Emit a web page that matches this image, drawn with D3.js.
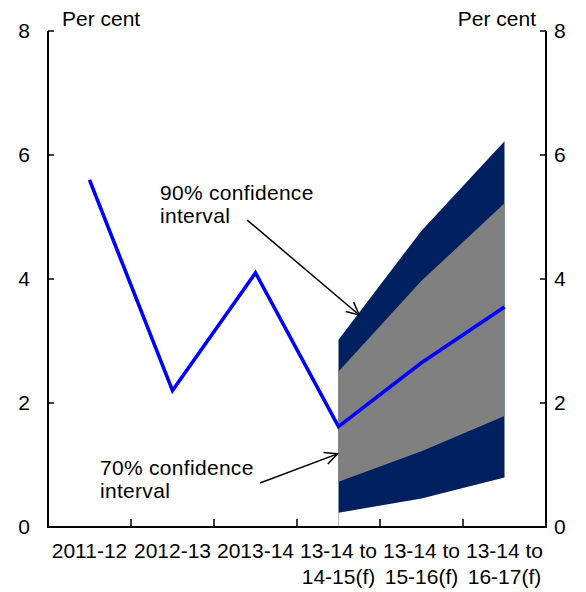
<!DOCTYPE html>
<html>
<head>
<meta charset="utf-8">
<script src="https://cdn.jsdelivr.net/npm/d3@7"></script>
<style>
  html, body { margin: 0; padding: 0; background: #fff; }
  svg { display: block; font-family: "Liberation Sans", Arial, sans-serif; }
  .tick-label { font-size: 21px; fill: #000; }
  .note { font-size: 21px; letter-spacing: 0.3px; fill: #000; }
</style>
</head>
<body>
<svg id="chart" width="586" height="592"></svg>
<script>
(function () {
  'use strict';

  const W = 586;
  const H = 592;
  const M = { left: 48, right: 40, top: 31, bottom: 65 };

  // categories, two-line labels
  const categories = ['2011-12', '2012-13', '2013-14', 'f1', 'f2', 'f3'];
  const catLabels = [
    ['2011-12'], ['2012-13'], ['2013-14'],
    ['13-14 to', '14-15(f)'], ['13-14 to', '15-16(f)'], ['13-14 to', '16-17(f)']
  ];

  // central line (per cent)
  const lineValues = [5.6, 2.2, 4.1, 1.62, 2.65, 3.55];

  // forecast fan, starting at 4th category
  const fanCats = ['f1', 'f2', 'f3'];
  const ci90Low = [0.23, 0.46, 0.80];
  const ci90High = [3.02, 4.78, 6.22];
  const ci70Low = [0.73, 1.22, 1.79];
  const ci70High = [2.51, 3.97, 5.22];

  const yTicks = [0, 2, 4, 6, 8];

  const svg = d3.select('#chart');
  const x = d3.scaleBand().domain(categories).range([M.left, W - M.right]).padding(0);
  const y = d3.scaleLinear().domain([0, 8]).range([H - M.bottom, M.top]);
  const cx = c => x(c) + x.bandwidth() / 2;

  const NAVY = '#00205f';
  const GREY = '#808080';
  const BLUE = '#0000ff';

  // fan
  const fan90 = fanCats.map((c, i) => ({ c, lo: ci90Low[i], hi: ci90High[i] }));
  const fan70 = fanCats.map((c, i) => ({ c, lo: ci70Low[i], hi: ci70High[i] }));
  const area = d3.area().x(d => cx(d.c)).y0(d => y(d.lo)).y1(d => y(d.hi));

  svg.append('line')
    .attr('x1', cx('f1')).attr('x2', cx('f1'))
    .attr('y1', y(0)).attr('y2', y(ci90Low[0]))
    .attr('stroke', '#b8c0d0').attr('stroke-width', 1);

  svg.append('path').attr('d', area(fan90)).attr('fill', NAVY);
  svg.append('path').attr('d', area(fan70)).attr('fill', GREY);

  // central line
  const line = d3.line().x((d, i) => cx(categories[i])).y(d => y(d));
  svg.append('path')
    .attr('d', line(lineValues))
    .attr('fill', 'none')
    .attr('stroke', BLUE)
    .attr('stroke-width', 3.6)
    .attr('stroke-linejoin', 'miter');

  // axes
  const x0 = M.left, x1 = W - M.right, yb = y(0), yt = y(8);
  const axisG = svg.append('g').attr('stroke', '#000').attr('fill', 'none');
  axisG.append('path').attr('d', `M${x0},${yt}V${yb}H${x1}V${yt}`).attr('stroke-width', 2);
  yTicks.forEach(t => {
    axisG.append('line').attr('x1', x0).attr('x2', x0 + 6).attr('y1', y(t)).attr('y2', y(t)).attr('stroke-width', 1.5);
    axisG.append('line').attr('x1', x1).attr('x2', x1 - 6).attr('y1', y(t)).attr('y2', y(t)).attr('stroke-width', 1.5);
  });
  categories.slice(1).forEach(c => {
    axisG.append('line').attr('x1', x(c)).attr('x2', x(c)).attr('y1', yb).attr('y2', yb - 8).attr('stroke-width', 1.5);
  });

  // y tick labels
  yTicks.forEach(t => {
    svg.append('text').attr('class', 'tick-label')
      .attr('x', 30).attr('y', y(t) + 7).attr('text-anchor', 'end').text(t);
    svg.append('text').attr('class', 'tick-label')
      .attr('x', 554).attr('y', y(t) + 7).attr('text-anchor', 'start').text(t);
  });

  svg.append('text').attr('class', 'tick-label').attr('x', 62).attr('y', 26).text('Per cent');
  svg.append('text').attr('class', 'tick-label').attr('x', 536).attr('y', 26)
    .attr('text-anchor', 'end').text('Per cent');

  // x labels
  categories.forEach((c, i) => {
    const t = svg.append('text').attr('class', 'tick-label')
      .attr('text-anchor', 'middle').attr('x', cx(c)).attr('y', 558);
    catLabels[i].forEach((s, k) => {
      t.append('tspan').attr('x', cx(c)).attr('dy', k === 0 ? 0 : 26).text(s);
    });
  });

  // annotations
  function arrow(fx, fy, tx, ty) {
    const ang = Math.atan2(ty - fy, tx - fx);
    const L = 14, spread = 0.45;
    const g = svg.append('g').attr('stroke', '#000').attr('stroke-width', 1.5).attr('fill', 'none');
    g.append('line').attr('x1', fx).attr('y1', fy).attr('x2', tx).attr('y2', ty);
    g.append('path').attr('d',
      `M${tx - L * Math.cos(ang - spread)},${ty - L * Math.sin(ang - spread)}` +
      `L${tx},${ty}` +
      `L${tx - L * Math.cos(ang + spread)},${ty - L * Math.sin(ang + spread)}`);
  }

  const n90 = svg.append('text').attr('class', 'note').attr('x', 160).attr('y', 200);
  n90.append('tspan').attr('x', 160).text('90% confidence');
  n90.append('tspan').attr('x', 160).attr('dy', 23).text('interval');
  arrow(x(categories[2]) + x.bandwidth() * 0.4, y(4.95), cx('f1') + x.bandwidth() * 0.25, y(3.42));

  const n70 = svg.append('text').attr('class', 'note').attr('x', 100).attr('y', 475);
  n70.append('tspan').attr('x', 100).text('70% confidence');
  n70.append('tspan').attr('x', 100).attr('dy', 23).text('interval');
  arrow(x(categories[3]) - 37, y(0.71), cx('f1') - 1, y(1.18));
})();
</script>
</body>
</html>
